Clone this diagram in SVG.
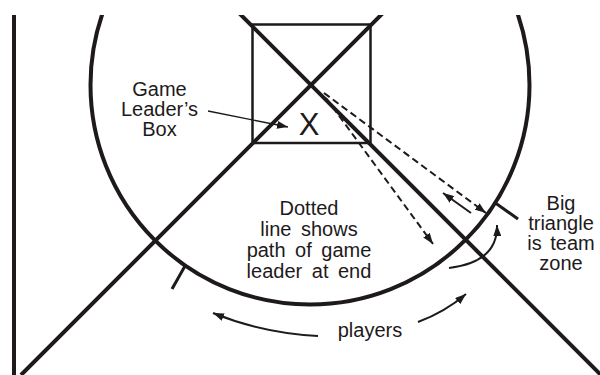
<svg xmlns="http://www.w3.org/2000/svg" width="600" height="375" viewBox="0 0 600 375">
<style>
.thick{fill:none;stroke:#1e1a1b;stroke-width:4}
.box{fill:none;stroke:#1e1a1b;stroke-width:2.5}
.dash{fill:none;stroke:#1e1a1b;stroke-width:2;stroke-dasharray:7 4}
.thin{fill:none;stroke:#1e1a1b;stroke-width:2}
.hair{fill:none;stroke:#1e1a1b;stroke-width:1.4}
text{font-family:"Liberation Sans",Arial,sans-serif;font-size:20px;fill:#1e1a1b;text-anchor:middle}
</style>
<defs>
<clipPath id="clip"><rect x="0" y="15" width="600" height="360"/></clipPath>
<marker id="ah" markerUnits="userSpaceOnUse" markerWidth="12" markerHeight="8" refX="11" refY="4" orient="auto"><path d="M0,0 L11,4 L0,8 z" fill="#1e1a1b"/></marker>
</defs>
<rect width="600" height="375" fill="#fff"/>
<g id="court" clip-path="url(#clip)">
<line class="thick" x1="14" y1="10" x2="14" y2="375"/>
<circle class="thick" cx="310" cy="85" r="219.5"/>
<line class="thick" x1="231" y1="5" x2="601" y2="375"/>
<line class="thick" x1="391" y1="5" x2="21" y2="375"/>
<line class="thick" x1="185" y1="266" x2="172" y2="289" style="stroke-width:3"/>
<line class="thick" x1="494" y1="202" x2="518" y2="219" style="stroke-width:3"/>
</g>
<g id="leader-box">
<rect class="box" x="252.5" y="24.5" width="118" height="118.5"/>
<text x="309" y="135" style="font-size:31px">X</text>
</g>
<g id="connectors">
<line class="hair" x1="208" y1="111" x2="288" y2="127" marker-end="url(#ah)"/>
<line class="dash" x1="326" y1="98" x2="433" y2="244" marker-end="url(#ah)"/>
<line class="dash" x1="324" y1="93" x2="486" y2="213" marker-end="url(#ah)"/>
<line class="thin" x1="471" y1="213" x2="443" y2="193" marker-end="url(#ah)"/>
<path class="thin" d="M449,268 Q498,262 497,225" marker-end="url(#ah)"/>
<path class="thin" d="M318,336 Q262,333 213,313" marker-end="url(#ah)"/>
<path class="thin" d="M418,322 Q445,312 466,294" marker-end="url(#ah)"/>
</g>
<g id="labels">
<text x="159.5" y="96">Game</text>
<text x="159.5" y="116">Leader’s</text>
<text x="159.5" y="136">Box</text>
<g style="word-spacing:4px">
<text x="309" y="215">Dotted</text>
<text x="309" y="236">line shows</text>
<text x="309" y="257">path of game</text>
<text x="309" y="278">leader at end</text>
</g>
<g style="word-spacing:3px">
<text x="561" y="210">Big</text>
<text x="561" y="230">triangle</text>
<text x="561" y="250">is team</text>
<text x="561" y="270">zone</text>
</g>
<text x="370" y="337">players</text>
</g>
</svg>
